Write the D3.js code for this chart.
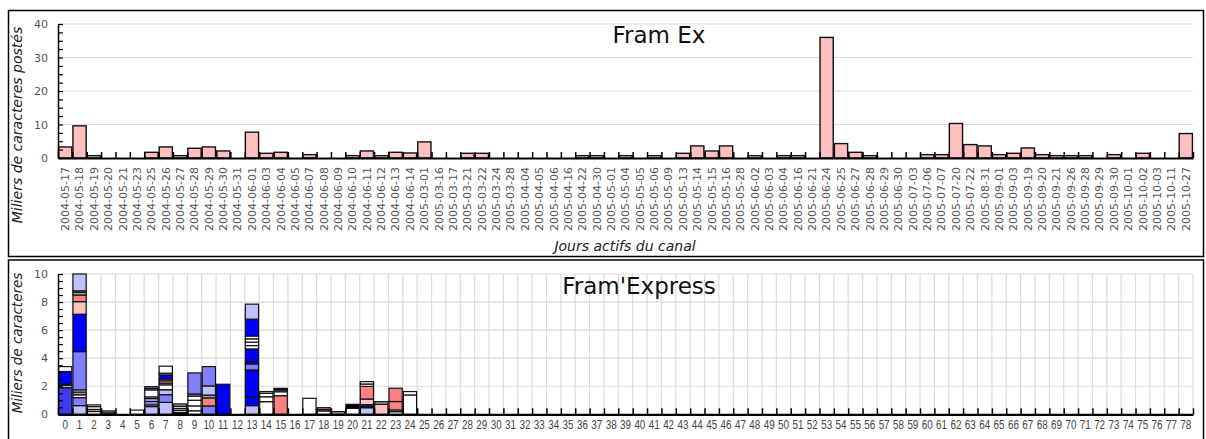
<!DOCTYPE html>
<html><head><meta charset="utf-8">
<script src="https://cdn.jsdelivr.net/npm/d3@7"></script>
<style>
html,body{margin:0;padding:0;background:#fff;}
svg{display:block;font-family:"DejaVu Sans",sans-serif;}
</style></head>
<body>
<svg id="chart" width="1206" height="439"></svg>
<script>
// ---------- DATA ----------
const topTitle = "Fram Ex";
const bottomTitle = "Fram'Express";
const topYLabel = "Miliers de caracteres postés";
const bottomYLabel = "Miliers de caracteres";
const topXLabel = "Jours actifs du canal";

const topDays = [
 "2004-05-17","2004-05-18","2004-05-19","2004-05-20","2004-05-21","2004-05-23","2004-05-25","2004-05-26",
 "2004-05-27","2004-05-28","2004-05-29","2004-05-30","2004-05-31","2004-06-01","2004-06-03","2004-06-04",
 "2004-06-05","2004-06-07","2004-06-08","2004-06-09","2004-06-10","2004-06-11","2004-06-12","2004-06-13",
 "2004-06-14","2005-03-01","2005-03-16","2005-03-17","2005-03-21","2005-03-22","2005-03-24","2005-03-28",
 "2005-04-04","2005-04-05","2005-04-06","2005-04-16","2005-04-22","2005-04-30","2005-05-01","2005-05-04",
 "2005-05-05","2005-05-06","2005-05-09","2005-05-13","2005-05-14","2005-05-15","2005-05-16","2005-05-28",
 "2005-06-02","2005-06-03","2005-06-04","2005-06-16","2005-06-21","2005-06-24","2005-06-25","2005-06-27",
 "2005-06-28","2005-06-29","2005-06-30","2005-07-03","2005-07-06","2005-07-07","2005-07-20","2005-07-22",
 "2005-08-31","2005-09-01","2005-09-03","2005-09-19","2005-09-20","2005-09-21","2005-09-26","2005-09-28",
 "2005-09-29","2005-09-30","2005-10-01","2005-10-02","2005-10-03","2005-10-11","2005-10-27"
];
const topValues = [
 3.3, 9.6, 0.7, 0, 0, 0, 1.7, 3.3,
 0.7, 2.9, 3.3, 2.1, 0, 7.7, 1.4, 1.7,
 0, 1.0, 0, 0, 0.7, 2.1, 0.7, 1.7,
 1.5, 4.8, 0, 0, 1.4, 1.4, 0, 0,
 0, 0, 0, 0, 0.7, 0.7, 0, 0.7,
 0, 0.7, 0, 1.4, 3.6, 2.1, 3.6, 0,
 0.7, 0, 0.7, 0.7, 0, 36.0, 4.3, 1.7,
 0.7, 0, 0, 0, 1.0, 1.0, 10.3, 4.0,
 3.6, 1.0, 1.4, 3.0, 1.0, 0.7, 0.7, 0.7,
 0, 1.0, 0, 1.4, 0, 0, 7.3
];
const topYTicks = [0, 10, 20, 30, 40];

const bottomDays = d3.range(79).map(String);
const bottomYTicks = [0, 2, 4, 6, 8, 10];
// series keys (participants) used in the stacks
const seriesKeys = ["A", "B", "C", "D", "E", "F", "G", "H", "K"];
// stacked segments per day, bottom to top: [series, value]
const bottomSegments = [
 [["B",1.9],["E",0.15],["E",0.1],["A",0.9],["E",0.35]],
 [["D",0.62],["C",0.57],["E",0.2],["F",0.2],["E",0.15],["C",2.73],["A",2.66],["H",0.9],["G",0.47],["F",0.2],["E",0.1],["D",1.2]],
 [["E",0.2],["F",0.15],["E",0.2],["E",0.12]],
 [["E",0.1],["F",0.14]],
 [],
 [["E",0.3]],
 [["D",0.55],["E",0.12],["C",0.25],["D",0.2],["E",0.12],["E",0.5],["E",0.1],["C",0.13]],
 [["D",0.85],["C",0.55],["D",0.35],["E",0.35],["E",0.12],["G",0.17],["E",0.12],["A",0.3],["E",0.12],["E",0.5]],
 [["K",0.12],["E",0.15],["F",0.15],["E",0.15],["F",0.17]],
 [["E",0.25],["E",0.35],["E",0.4],["E",0.3],["F",0.15],["C",1.5]],
 [["C",0.6],["G",0.57],["F",0.2],["D",0.65],["C",1.38]],
 [["A",2.14]],
 [],
 [["D",0.62],["A",0.64],["A",1.9],["C",0.43],["A",0.17],["A",0.9],["E",0.24],["E",0.24],["E",0.24],["E",0.2],["A",1.2],["D",1.07]],
 [["E",0.9],["E",0.35],["E",0.25],["E",0.12]],
 [["G",1.33],["E",0.28],["E",0.12],["K",0.12]],
 [],
 [["E",1.14]],
 [["E",0.24],["H",0.1],["G",0.13]],
 [["F",0.19]],
 [["E",0.43],["K",0.28]],
 [["D",0.47],["A",0.12],["C",0.1],["H",0.4],["G",0.9],["E",0.17],["E",0.17]],
 [["H",0.71],["F",0.19]],
 [["E",0.19],["E",0.12],["G",0.6],["G",0.95]],
 [["E",1.38],["E",0.24]]
];

// ---------- STYLE / LAYOUT ----------
const seriesColor = d3.scaleOrdinal().domain(seriesKeys)
  .range(["#0000ff","#3c3cf5","#8080ff","#c0c0ff","#ffffff","#a0a0a0","#ff8080","#ffc0c0","#000000"]);
const svg = d3.select("#chart");
svg.append("rect").attr("width",1206).attr("height",439).attr("fill","#fff");

const X0 = 58, X1 = 1193;
const gridColor = "#dcdcdc";
const labelColor = "#555";

// panel borders
svg.append("rect").attr("x",8.5).attr("y",10.5).attr("width",1195).attr("height",246)
  .attr("fill","none").attr("stroke","#000").attr("stroke-width",1.5);
svg.append("rect").attr("x",8.5).attr("y",260).attr("width",1195).attr("height",200)
  .attr("fill","none").attr("stroke","#000").attr("stroke-width",1.5);

function makeBand(domain){
  return d3.scaleBand().domain(domain).range([X0, X1]).paddingInner(0.08).paddingOuter(0.04);
}
function boundaries(n){
  return d3.scaleLinear().domain([0, n]).range([X0, X1]);
}

function drawYAxis(g, y, majors, minorStep){
  const [lo, hi] = y.domain();
  g.append("g").attr("transform",`translate(${X0},0)`)
    .call(d3.axisRight(y).tickValues(d3.range(lo, hi + 1e-9, minorStep)).tickSize(5).tickSizeOuter(0).tickFormat(""))
    .call(s => s.selectAll("line").attr("stroke","#000").attr("stroke-width",1.2))
    .call(s => s.select(".domain").attr("stroke","#000").attr("stroke-width",1.5));
  g.append("g").attr("transform",`translate(${X0},0)`)
    .call(d3.axisLeft(y).tickValues(majors).tickSize(0).tickPadding(10))
    .call(s => s.select(".domain").remove())
    .call(s => s.selectAll("text").attr("fill",labelColor).attr("font-size",11).attr("font-family","DejaVu Sans"));
}

function drawBaseline(g, y, n){
  const b = boundaries(n);
  g.append("g").attr("transform",`translate(0,${y(0)})`)
    .call(d3.axisTop(b).tickValues(d3.range(n + 1)).tickSize(6).tickSizeOuter(0).tickFormat(""))
    .call(s => s.selectAll("line").attr("stroke","#000").attr("stroke-width",1.5))
    .call(s => s.select(".domain").attr("stroke","#000").attr("stroke-width",2.2));
}

// ---------- TOP CHART ----------
{
  const g = svg.append("g");
  const x = makeBand(topDays);
  const y = d3.scaleLinear().domain([0, 40]).range([158, 24]);

  g.append("g").selectAll("line").data(topYTicks.filter(d => d > 0)).join("line")
    .attr("x1", X0).attr("x2", X1).attr("y1", d => y(d)).attr("y2", d => y(d))
    .attr("stroke", gridColor).attr("stroke-width", 1.2);

  g.append("text").attr("x", 659).attr("y", 43).attr("text-anchor","middle")
    .attr("font-size", 23).attr("fill","#111").text(topTitle);

  g.append("g").selectAll("rect").data(topDays.map((d,i)=>({d, v: topValues[i]})).filter(o => o.v > 0)).join("rect")
    .attr("x", o => x(o.d)).attr("width", x.bandwidth())
    .attr("y", o => y(o.v)).attr("height", o => y(0) - y(o.v))
    .attr("fill", "#ffbfbf").attr("stroke", "#111").attr("stroke-width", 1.4);

  drawBaseline(g, y, topDays.length);
  drawYAxis(g, y, topYTicks, 2.5);

  g.append("g").attr("transform", `translate(0,${y(0) + 9})`)
    .call(d3.axisBottom(x).tickSize(0).tickPadding(0))
    .call(s => s.select(".domain").remove())
    .call(s => s.selectAll("text")
      .attr("transform","rotate(-90)").attr("text-anchor","end")
      .attr("x", 0).attr("y", 0).attr("dy","0.35em")
      .attr("fill", labelColor).attr("font-size", 11).attr("font-family","DejaVu Sans"));

  g.append("text").attr("transform", "translate(22,125) rotate(-90)").attr("text-anchor","middle")
    .attr("font-size", 14).attr("font-style","italic").attr("fill","#222").text(topYLabel);
  g.append("text").attr("x", 625).attr("y", 251).attr("text-anchor","middle")
    .attr("font-size", 14).attr("font-style","italic").attr("fill","#222").text(topXLabel);
}

// ---------- BOTTOM CHART ----------
{
  const g = svg.append("g");
  const x = makeBand(bottomDays);
  const y = d3.scaleLinear().domain([0, 10]).range([414.3, 274]);
  const b = boundaries(bottomDays.length);

  g.append("g").selectAll("line").data(bottomYTicks.filter(d => d > 0)).join("line")
    .attr("x1", X0).attr("x2", X1).attr("y1", d => y(d)).attr("y2", d => y(d))
    .attr("stroke", gridColor).attr("stroke-width", 1.2);
  g.append("g").selectAll("line").data(d3.range(1, bottomDays.length + 1)).join("line")
    .attr("x1", d => b(d)).attr("x2", d => b(d)).attr("y1", y(10)).attr("y2", y(0))
    .attr("stroke", gridColor).attr("stroke-width", 1.2);

  g.append("text").attr("x", 639).attr("y", 294).attr("text-anchor","middle")
    .attr("font-size", 23).attr("fill","#111").text(bottomTitle);

  const segs = [];
  bottomSegments.forEach((list, i) => {
    const ends = d3.cumsum(list.map(s => s[1]));
    list.forEach((s, j) => segs.push({day: bottomDays[i], key: s[0], y0: j ? ends[j-1] : 0, y1: ends[j]}));
  });
  g.append("g").selectAll("rect").data(segs).join("rect")
    .attr("x", s => x(s.day)).attr("width", x.bandwidth())
    .attr("y", s => y(s.y1)).attr("height", s => y(s.y0) - y(s.y1))
    .attr("fill", s => seriesColor(s.key)).attr("stroke", "#111").attr("stroke-width", 1.2);

  drawBaseline(g, y, bottomDays.length);
  drawYAxis(g, y, bottomYTicks, 0.5);

  g.append("g").attr("transform", `translate(0,${y(0) + 3})`)
    .call(d3.axisBottom(x).tickSize(0).tickPadding(3))
    .call(s => s.select(".domain").remove())
    .call(s => s.selectAll("text").attr("fill", "#444").attr("font-size", 12)
      .attr("font-family","Liberation Sans").attr("transform","scale(0.82,1)"));

  g.append("text").attr("transform", "translate(22,343) rotate(-90)").attr("text-anchor","middle")
    .attr("font-size", 13.5).attr("font-style","italic").attr("fill","#222").text(bottomYLabel);
}
</script>
</body></html>
